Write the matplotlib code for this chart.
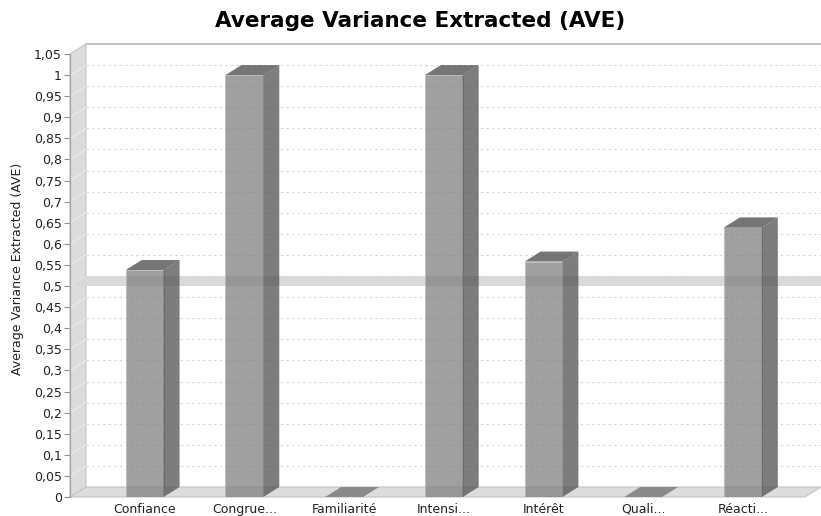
import matplotlib
matplotlib.use("Agg")
import matplotlib.pyplot as plt
import numpy as np
from matplotlib.patches import Polygon

# Donnees
categories = ["Confiance", "Congrue...", "Familiarité", "Intensi...",
              "Intérêt", "Quali...", "Réacti..."]
ave = [0.538, 1.0, 0.0, 1.0, 0.558, 0.0, 0.639]
seuil = 0.5
yticks = [round(0.05 * k, 2) for k in range(22)]

# geometrie 3D (en unites de donnees)
dx = 0.16     # decalage profondeur en x (categories)
dy = 0.0237   # decalage profondeur en y (valeur)
bw = 0.19     # demi largeur barre
xmin, xmax = -0.749, 6.783
ymax = 1.05

fig = plt.figure(figsize=(8.21, 5.16), dpi=100)
ax = fig.add_axes([70 / 821, 19 / 516, 751 / 821, 453 / 516])
ax.set_xlim(xmin, xmax)
ax.set_ylim(0, ymax + dy)

wall = "#dcdcdc"
wall_edge = "#c4c4c4"

# mur gauche et sol
ax.add_patch(Polygon([(xmin, 0), (xmin + dx, dy), (xmin + dx, ymax + dy), (xmin, ymax)],
                     closed=True, facecolor=wall, edgecolor=wall_edge, lw=0.8, zorder=1, clip_on=False))
ax.add_patch(Polygon([(xmin, 0), (xmax - dx, 0), (xmax, dy), (xmin + dx, dy)],
                     closed=True, facecolor=wall, edgecolor=wall_edge, lw=0.8, zorder=1, clip_on=False))
# bord haut du mur du fond
ax.plot([xmin + dx, xmax], [ymax + dy, ymax + dy], color="#c4c4c4", lw=1.5, zorder=1, clip_on=False)

# grille
for v in yticks[1:-1]:
    ax.plot([xmin + dx, xmax], [v + dy, v + dy], color="#d6d6d6", lw=0.8,
            dashes=(2, 3), zorder=2, clip_on=False)
    ax.plot([xmin, xmin + dx], [v, v + dy], color="#ebebeb", lw=0.8, zorder=2, clip_on=False)

# marqueur 0.5
ax.add_patch(Polygon([(xmin, seuil), (xmax, seuil), (xmax, seuil + dy), (xmin + dx, seuil + dy)],
                     closed=True, facecolor="#d9d9d9", edgecolor="none", zorder=3, clip_on=False))

# barres
for i, v in enumerate(ave):
    c = i
    if v <= 0:
        ax.add_patch(Polygon([(c - bw, 0), (c + bw, 0), (c + bw + dx, dy), (c - bw + dx, dy)],
                             closed=True, facecolor="#8a8a8a", edgecolor="none", zorder=4))
        continue
    front = [(c - bw, 0), (c + bw, 0), (c + bw, v), (c - bw, v)]
    side = [(c + bw, 0), (c + bw + dx, dy), (c + bw + dx, v + dy), (c + bw, v)]
    top = [(c - bw, v), (c + bw, v), (c + bw + dx, v + dy), (c - bw + dx, v + dy)]
    ax.add_patch(Polygon(front, closed=True, facecolor="#808080", alpha=0.75,
                         edgecolor="#b8b8b8", lw=0.6, zorder=4))
    ax.add_patch(Polygon(side, closed=True, facecolor="#525252", alpha=0.75,
                         edgecolor="none", zorder=4))
    ax.add_patch(Polygon(top, closed=True, facecolor="#484848", alpha=0.75,
                         edgecolor="none", zorder=4, clip_on=False))

# axes
for s in ["top", "right", "bottom"]:
    ax.spines[s].set_visible(False)
ax.spines["left"].set_color("#a0a0a0")
ax.spines["left"].set_bounds(0, ymax)


def fmt(v):
    s = ("%.2f" % v).rstrip("0").rstrip(".")
    return s.replace(".", ",")


ax.set_yticks(yticks)
ax.set_yticklabels([fmt(v) for v in yticks], fontsize=9, color="#222222")
ax.tick_params(axis="y", direction="out", length=4, color="#909090", pad=2)
ax.set_xticks(range(len(categories)))
ax.set_xticklabels(categories, fontsize=9, color="#222222")
ax.tick_params(axis="x", length=0, pad=4)

fig.text(0.512, 1 - 21 / 516, "Average Variance Extracted (AVE)", fontsize=15.5,
         fontweight="bold", ha="center", va="center")
fig.text(18 / 821, 1 - 269 / 516, "Average Variance Extracted (AVE)", fontsize=9,
         rotation=90, ha="center", va="center", color="#222222")

fig.savefig("out.png", dpi=100)
